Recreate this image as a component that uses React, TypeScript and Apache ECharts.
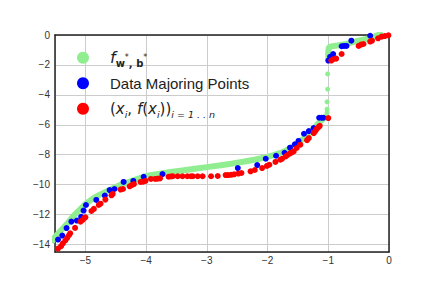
import React, { useEffect, useRef } from "react";
import * as echarts from "echarts";

// Fitted curve f_{w*,b*}: lower branch (dense band)
const fLowX = [-5.56, -5.5, -5.4, -5.3, -5.2, -5.1, -5.0, -4.9, -4.8, -4.7, -4.6, -4.5, -4.4, -4.3, -4.2, -4.1, -4.0, -3.8, -3.6, -3.4, -3.2, -3.0, -2.8, -2.6, -2.4, -2.2, -2.0, -1.9, -1.8, -1.7, -1.6, -1.5, -1.4, -1.3, -1.2, -1.15, -1.1, -1.05, -1.02];
const fLowY = [-13.85, -13.5, -13.05, -12.62, -12.1, -11.7, -11.3, -11.0, -10.75, -10.55, -10.35, -10.15, -9.98, -9.84, -9.7, -9.56, -9.42, -9.28, -9.16, -9.05, -8.94, -8.83, -8.72, -8.6, -8.47, -8.32, -8.15, -8.03, -7.9, -7.73, -7.5, -7.22, -6.9, -6.5, -6.08, -5.85, -5.65, -5.5, -5.38];
// Isolated points of f at the jump
const fJumpX = [-1.01, -1.01, -1.02, -1.02, -1.02];
const fJumpY = [-2.6, -3.62, -4.47, -4.96, -5.18];
// Upper branch of f
const fHighX = [-1.0, -1.0, -0.99, -0.95, -0.85, -0.7, -0.5, -0.3, -0.18, -0.1];
const fHighY = [-1.6, -1.1, -0.82, -0.76, -0.7, -0.6, -0.38, -0.2, 0.0, 0.12];

// Data Majoring Points
const majorX = [-5.45, -5.38, -5.31, -5.23, -5.14, -5.07, -5.03, -4.99, -4.82, -4.68, -4.6, -4.52, -4.37, -4.21, -4.04, -3.73, -2.49, -2.17, -2.03, -1.86, -1.72, -1.63, -1.55, -1.49, -1.4, -1.32, -1.24, -1.15, -1.11, -1.08, -1.0, -0.97, -0.92, -0.78, -0.74, -0.7, -0.62, -0.31];
const majorY = [-13.67, -13.4, -12.9, -12.47, -12.4, -12.15, -11.73, -11.36, -11.02, -10.73, -10.36, -10.29, -9.82, -9.75, -9.47, -9.29, -8.89, -8.69, -8.27, -8.07, -7.87, -7.53, -7.31, -7.08, -6.6, -6.42, -6.22, -5.53, -5.53, -5.53, -1.71, -1.46, -1.28, -0.75, -0.73, -0.73, -0.38, -0.05];

// Samples (x_i, f(x_i))
const sampleX = [-5.45, -5.4, -5.37, -5.33, -5.3, -5.27, -5.25, -5.17, -5.08, -5.05, -5.02, -5.0, -4.9, -4.86, -4.78, -4.75, -4.67, -4.57, -4.55, -4.42, -4.38, -4.27, -4.23, -4.2, -4.09, -4.05, -4.01, -3.92, -3.85, -3.81, -3.77, -3.63, -3.59, -3.56, -3.48, -3.4, -3.32, -3.26, -3.23, -3.15, -3.07, -2.93, -2.82, -2.69, -2.65, -2.6, -2.55, -2.48, -2.43, -2.28, -2.21, -2.09, -2.01, -1.97, -1.87, -1.79, -1.76, -1.7, -1.67, -1.63, -1.6, -1.57, -1.52, -1.46, -1.35, -1.32, -1.24, -1.21, -1.19, -1.16, -1.14, -1.0, -0.95, -0.92, -0.87, -0.78, -0.5, -0.46, -0.42, -0.31, -0.28, -0.18, -0.12, -0.07, -0.01];
const sampleY = [-14.27, -14.11, -13.93, -13.73, -13.56, -13.38, -13.25, -12.89, -12.47, -12.38, -12.24, -12.18, -11.76, -11.62, -11.36, -11.27, -11.0, -10.71, -10.62, -10.33, -10.29, -10.11, -10.02, -9.96, -9.82, -9.8, -9.75, -9.62, -9.62, -9.6, -9.58, -9.47, -9.45, -9.44, -9.44, -9.44, -9.44, -9.44, -9.44, -9.44, -9.44, -9.44, -9.42, -9.36, -9.36, -9.34, -9.31, -9.26, -9.22, -9.11, -9.02, -8.89, -8.75, -8.67, -8.48, -8.33, -8.27, -8.11, -8.02, -7.91, -7.84, -7.78, -7.55, -7.33, -7.03, -6.89, -6.56, -6.4, -6.27, -6.15, -6.07, -5.55, -1.71, -1.62, -1.58, -1.27, -0.73, -0.64, -0.6, -0.44, -0.38, -0.22, -0.11, -0.07, -0.02];

const seriesNames = ["f_{w*, b*}", "Data Majoring Points", "(x_i, f(x_i))_{i=1..n}"];

const zip = (xs: number[], ys: number[]) => xs.map((x, i) => [x, ys[i]]);

const GREEN = "#90ee90";
const BLUE = "#0000ff";
const RED = "#ff0000";

const legendLabel: Record<string, string> = {
  [seriesNames[0]]: "{mi0|f}{sb|w}{ss|*}{sb|, b}{ss|*}",
  [seriesNames[1]]: "{t0|Data Majoring Points}",
  [seriesNames[2]]: "{mr0|(}{mi|x}{si|i}{mr|, }{mi|f}{mr|(}{mi|x}{si|i}{mr|))}{si|i = 1 . . n}",
};

const minus = (v: number) => String(v).replace("-", "\u2212");

export default function App() {
  const ref = useRef<HTMLDivElement>(null);
  useEffect(() => {
    if (!ref.current) return;
    const chart = echarts.init(ref.current, undefined, { renderer: "svg" });
    const frame = { show: true, onZero: false, lineStyle: { color: "#222", width: 1.5 } };
    const labelStyle = { color: "#333", fontSize: 10, fontFamily: "Liberation Sans, Arial, sans-serif" };
    const mathFont = "DejaVu Sans, sans-serif";
    chart.setOption({
      animation: false,
      backgroundColor: "#ffffff",
      grid: { left: 55, right: 43, top: 35, bottom: 36 },
      xAxis: [
        {
          type: "value", min: -5.5, max: 0, splitNumber: 5,
          axisLine: frame, axisTick: { show: false },
          splitLine: { show: true, lineStyle: { color: "#cccccc", width: 1 } },
          axisLabel: { ...labelStyle, margin: 3, showMinLabel: false, formatter: minus },
        },
        {
          type: "value", position: "top", min: -5.5, max: 0,
          axisLine: frame, axisTick: { show: false }, axisLabel: { show: false }, splitLine: { show: false },
        },
      ],
      yAxis: [
        {
          type: "value", min: -14.5, max: 0, splitNumber: 7,
          axisLine: frame, axisTick: { show: false },
          splitLine: { show: true, lineStyle: { color: "#cccccc", width: 1 } },
          axisLabel: { ...labelStyle, margin: 5, showMinLabel: false, formatter: minus },
        },
        {
          type: "value", position: "right", min: -14.5, max: 0,
          axisLine: frame, axisTick: { show: false }, axisLabel: { show: false }, splitLine: { show: false },
        },
      ],
      legend: {
        orient: "vertical", left: 77, top: 46.7, padding: 0, itemGap: 3.5,
        itemWidth: 12, itemHeight: 12, icon: "circle",
        data: seriesNames,
        formatter: (name: string) => legendLabel[name] ?? name,
        textStyle: {
          color: "#222", fontSize: 15, lineHeight: 22, fontFamily: "Liberation Sans, Arial, sans-serif",
          rich: {
            t0: { fontSize: 15, lineHeight: 22, color: "#222", fontFamily: "Liberation Sans, Arial, sans-serif", padding: [0, 0, 0, 16] },
            mi0: { fontSize: 16, lineHeight: 22, color: "#222", fontFamily: mathFont, fontStyle: "italic", padding: [0, 0, 0, 16] },
            mr0: { fontSize: 15, lineHeight: 22, color: "#222", fontFamily: mathFont, padding: [0, 0, 0, 16] },
            mi: { fontSize: 15, lineHeight: 22, color: "#222", fontFamily: mathFont, fontStyle: "italic" },
            mr: { fontSize: 15, lineHeight: 22, color: "#222", fontFamily: mathFont },
            sb: { fontSize: 10, lineHeight: 14, color: "#222", fontFamily: mathFont, fontWeight: "bold", verticalAlign: "bottom" },
            ss: { fontSize: 8, lineHeight: 22, color: "#222", fontFamily: mathFont, verticalAlign: "middle" },
            si: { fontSize: 9.5, lineHeight: 14, color: "#222", fontFamily: mathFont, fontStyle: "italic", verticalAlign: "bottom" },
          },
        },
      },
      series: [
        {
          name: seriesNames[0], type: "line", data: zip(fLowX, fLowY), showSymbol: false, symbol: "circle",
          z: 1, color: GREEN, lineStyle: { color: GREEN, width: 6, opacity: 1 }, itemStyle: { color: GREEN, opacity: 1 }, clip: true,
        },
        {
          name: seriesNames[0], type: "scatter", data: zip(fJumpX, fJumpY), symbolSize: 5,
          z: 1, itemStyle: { color: GREEN, opacity: 1 }, clip: true,
        },
        {
          name: seriesNames[0], type: "line", data: zip(fHighX, fHighY), showSymbol: false, symbol: "circle",
          z: 1, color: GREEN, lineStyle: { color: GREEN, width: 6, opacity: 1 }, itemStyle: { color: GREEN, opacity: 1 }, clip: true,
        },
        {
          name: seriesNames[1], type: "scatter", data: zip(majorX, majorY), symbolSize: 6,
          z: 3, itemStyle: { color: BLUE, opacity: 1 }, clip: true,
        },
        {
          name: seriesNames[2], type: "scatter", data: zip(sampleX, sampleY), symbolSize: 6,
          z: 4, itemStyle: { color: RED, opacity: 1 }, clip: true,
        },
      ],
    });
    return () => chart.dispose();
  }, []);
  return (
    <div
      ref={ref}
      style={{ position: "absolute", left: 0, top: 0, width: 432, height: 288, background: "#fff" }}
    />
  );
}
